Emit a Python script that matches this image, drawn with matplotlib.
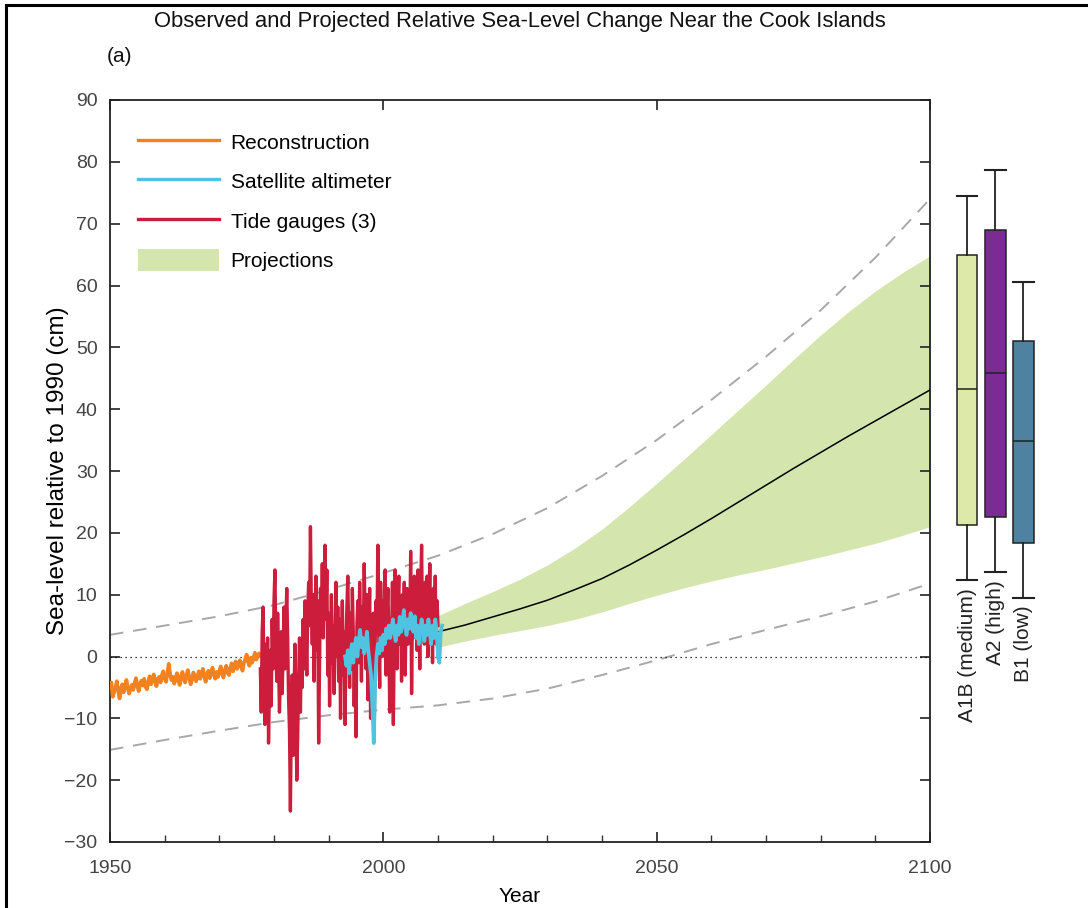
import numpy as np
import matplotlib
matplotlib.use("Agg")
import matplotlib.pyplot as plt
from matplotlib.lines import Line2D
from matplotlib.patches import Patch

plt.rcParams['font.family'] = ['Liberation Sans', 'DejaVu Sans']

# --- observed series (cm, relative to 1990) ---
recon_start, recon_step = 1950.0, 0.25
recon = [-5.0, -4.2, -6.5, -5.8, -5.0, -4.0, -5.5, -6.8,
         -5.2, -4.5, -5.8, -4.9, -3.8, -5.0, -6.0, -5.2,
         -4.6, -5.4, -4.3, -3.5, -4.8, -5.6, -4.4, -3.9,
         -4.7, -3.6, -4.9, -5.3, -4.1, -3.2, -4.5, -3.8,
         -2.9, -4.0, -4.8, -3.6, -3.3, -4.2, -3.0, -2.4,
         -3.6, -4.1, -2.8, -1.2, -2.9, -3.8, -3.3, -4.4,
         -3.5, -2.7, -3.9, -4.6, -3.2, -2.5, -3.7, -4.2,
         -3.0, -2.2, -3.4, -4.5, -3.8, -2.6, -3.1, -4.0,
         -3.3, -2.4, -3.6, -2.8, -2.0, -3.2, -4.1, -2.9,
         -2.3, -3.5, -2.7, -1.8, -2.9, -3.6, -2.5, -3.3,
         -2.4, -1.6, -2.8, -3.4, -2.2, -1.5, -2.6, -3.0,
         -1.9, -1.1, -2.4, -1.6, -0.8, -2.0, -1.4, -0.6,
         -1.7, -2.3, -1.0, -0.4, 0.3, -0.9, -1.5, -0.2,
         -1.0, -0.3, 0.6, -0.5, -0.1, 0.5, 0.2]

tide_start, tide_step = 1977.5, 1 / 6
tide = [-2, -9, 4,
        8, -3, -11, 2, -6, 3,
        -14, -5, 1, -8, 6, -2,
        9, 14, 2, -4, 7, -1,
        -9, -3, 4, -6, 1, 8,
        -2, 5, 11, 3, -7, -12,
        -25, -10, -3, -16, -6, 2,
        -8, -20, -13, -4, 3, -9,
        1, -5, 6, -2, 9, 4,
        -3, 7, 12, 5, 21, 8,
        2, 10, -4, 6, 13, 1,
        9, -14, -2, 11, 4, 15,
        3, 12, 18, 6, 14, -3,
        7, -8, 2, 10, -1, 5,
        -6, 3, 12, 0, 8, -4,
        6, -10, 1, 9, -3, 4,
        -11, 2, 8, 13, 3, -5,
        7, -2, 11, 4, -8, 1,
        -13, 5, 9, -1, 12, 3,
        -4, 8, 2, 15, 6, -2,
        10, -7, 3, 11, -10, 1,
        -4, 7, -12, 2, 9, 5,
        18, 3, -5, 12, 6, 0,
        9, 2, 14, -3, 7, 11,
        4, -9, 6, 1, 12, -11,
        3, 14, 5, -2, 9, 13,
        2, 8, -4, 10, 5, 12,
        -3, 7, 11, 2, 9, 4,
        17, -6, 8, 3, 13, 6,
        10, 1, 14, 7, -2, 11,
        18, 5, 9, 2, 12, 6,
        13, 0, 8, 15, 4, 10,
        -1, 11, 6, 13, 2, 9,
        5]

sat_start, sat_step = 1993.0, 0.25
sat = [0, -1.5, 1, -2.7, 0.5, 2, -1, 1.5, 3, 0, 2.5, 4.3, 1.5, 3, 0.5, 2,
       4, 1, -1, -3, -8, -14, -4, 0, 2, 0.5, 3, 1, 3.5, 2, 4.5, 3,
       5, 3, 4.5, 6, 4, 2.5, 5, 3.5, 6.4, 4, 5.5, 7.5, 5, 3.5, 6, 4.5,
       7, 5, 4, 6.5, 3, 5, 2, 4, 6, 4.5, 2.5, 5, 3.5, 6, 4, 2,
       5, 3, 6, 4, 0, -1, 4, 5]

# --- projections ---
proj_years = [2010, 2015, 2020, 2025, 2030, 2035, 2040, 2045, 2050, 2055,
              2060, 2065, 2070, 2075, 2080, 2085, 2090, 2095, 2100]
proj_mean = [4.0, 5.1, 6.4, 7.7, 9.1, 10.8, 12.6, 14.8, 17.2, 19.7,
             22.3, 25.0, 27.7, 30.4, 33.0, 35.6, 38.1, 40.6, 43.1]
proj_upper = [6.6, 8.6, 10.5, 12.5, 14.8, 17.5, 20.6, 24.2, 28.0, 31.9,
              35.9, 39.9, 43.9, 48.0, 52.0, 55.7, 59.1, 62.1, 64.8]
proj_lower = [1.5, 2.5, 3.4, 4.2, 5.0, 6.0, 7.2, 8.6, 9.9, 11.1,
              12.2, 13.2, 14.1, 15.1, 16.1, 17.2, 18.3, 19.6, 21.0]

env_years = [1950, 1960, 1970, 1980, 1990, 2000, 2010, 2020,
             2030, 2040, 2050, 2060, 2070, 2080, 2090, 2100]
env_upper = [3.5, 5.0, 6.5, 8.3, 10.8, 13.5, 16.3, 19.8,
             24.0, 29.2, 35.0, 41.5, 48.5, 56.0, 64.5, 74.0]
env_lower = [-15.1, -13.5, -12.0, -10.6, -9.5, -8.6, -7.9, -6.8,
             -5.2, -3.0, -0.6, 2.0, 4.3, 6.5, 8.9, 11.8]

# --- 2100 scenario ranges ---
scenarios = ['A1B (medium)', 'A2 (high)', 'B1 (low)']
sc_whislo = [12.4, 13.7, 9.5]
sc_q1 = [21.2, 22.6, 18.3]
sc_med = [43.2, 45.8, 34.8]
sc_q3 = [65.0, 69.0, 51.0]
sc_whishi = [74.5, 78.6, 60.5]
sc_colors = ['#dde9a9', '#7b2b93', '#4f81a0']

W, H = 1088, 908
fig = plt.figure(figsize=(W / 100, H / 100), dpi=100)
ax = fig.add_axes([110 / W, 1 - 842 / H, 820 / W, 742 / H])

def years(start, step, vals):
    return start + step * np.arange(len(vals))

ax.fill_between(proj_years, proj_lower, proj_upper, color='#d5e5ae', lw=0, zorder=1)
ax.plot(env_years, env_upper, color='#a8a8a8', lw=1.4, dashes=(7, 5), zorder=2)
ax.plot(env_years, env_lower, color='#a8a8a8', lw=1.4, dashes=(7, 5), zorder=2)
ax.axhline(0, color='black', lw=0.9, ls=(0, (1, 3)), zorder=2)
ax.plot(proj_years, proj_mean, color='black', lw=1.1, zorder=3)
ax.plot(years(recon_start, recon_step, recon), recon, color='#f28120', lw=2.7, zorder=4)
ax.plot(years(tide_start, tide_step, tide), tide, color='#cc1d3c', lw=2.4, zorder=5)
ax.plot(years(sat_start, sat_step, sat), sat, color='#4fc4e0', lw=2.7, zorder=6)

ax.set_xlim(1950, 2100)
ax.set_ylim(-30, 90)
ax.set_xticks([1950, 2000, 2050, 2100])
ax.set_xticks(np.arange(1960, 2100, 10), minor=True)
ax.set_yticks(np.arange(-30, 91, 10))
ax.set_yticklabels(['\u221230', '\u221220', '\u221210', '0', '10', '20', '30',
                    '40', '50', '60', '70', '80', '90'])
ax.tick_params(axis='both', which='major', direction='in', length=7, width=1.2,
               labelsize=14, colors='#222222', labelcolor='#444444')
ax.tick_params(axis='y', which='major', right=True, pad=9)
ax.tick_params(axis='x', which='major', top=True, pad=13)
ax.tick_params(axis='x', which='minor', direction='in', length=5, width=1.0,
               top=False, colors='#333333')
for s in ax.spines.values():
    s.set_linewidth(1.3)
    s.set_color('#222222')
ax.set_xlabel('Year', fontsize=15, labelpad=7)
ax.set_ylabel('Sea-level relative to 1990 (cm)', fontsize=17.5, labelpad=-3)

handles = [Line2D([], [], color='#f28120', lw=2.4),
           Line2D([], [], color='#4fc4e0', lw=2.4),
           Line2D([], [], color='#cc1d3c', lw=2.4),
           Patch(color='#d5e5ae', lw=0)]
labels = ['Reconstruction', 'Satellite altimeter', 'Tide gauges (3)', 'Projections']
ax.legend(handles, labels, loc='upper left', bbox_to_anchor=(28 / 820, 1 - 31 / 742),
          frameon=False, fontsize=15, handlelength=3.9, handleheight=1.2,
          handletextpad=0.55, labelspacing=0.85, borderpad=0, borderaxespad=0)

# scenario box plots
bx = fig.add_axes([945 / W, 1 - 842 / H, 100 / W, 742 / H])
stats = [dict(label=n, whislo=a, q1=b, med=c, q3=d, whishi=e)
         for n, a, b, c, d, e in zip(scenarios, sc_whislo, sc_q1, sc_med, sc_q3, sc_whishi)]
pos = [1, 2, 3]
parts = bx.bxp(stats, positions=pos, widths=0.72, capwidths=0.72, showfliers=False,
               patch_artist=True,
               boxprops=dict(edgecolor='#222222', lw=1.1),
               medianprops=dict(color='#222222', lw=1.1),
               whiskerprops=dict(color='#222222', lw=1.3),
               capprops=dict(color='#222222', lw=1.5))
for b, c in zip(parts['boxes'], sc_colors):
    b.set_facecolor(c)
for p, lo, name in zip(pos, sc_whislo, scenarios):
    bx.text(p, lo - 1.3, name, rotation=90, ha='center', va='top', fontsize=15,
            color='#222222')
bx.set_xlim(0.2, 3.77)
bx.set_ylim(-30, 90)
bx.axis('off')

fig.text(520 / W, 1 - 22 / H,
         'Observed and Projected Relative Sea-Level Change Near the Cook Islands',
         ha='center', va='center', fontsize=15.8, color='#111111')
fig.text(107 / W, 1 - 57 / H, '(a)', ha='left', va='center', fontsize=15,
         color='#111111')

# frame around the figure panel
fig.add_artist(Line2D([6 / W, 6 / W], [0, 1 - 5 / H], color='black', lw=2.2,
                      transform=fig.transFigure))
fig.add_artist(Line2D([6 / W, 1], [1 - 5 / H, 1 - 5 / H], color='black', lw=2.2,
                      transform=fig.transFigure))

fig.savefig('out.png', dpi=100)
